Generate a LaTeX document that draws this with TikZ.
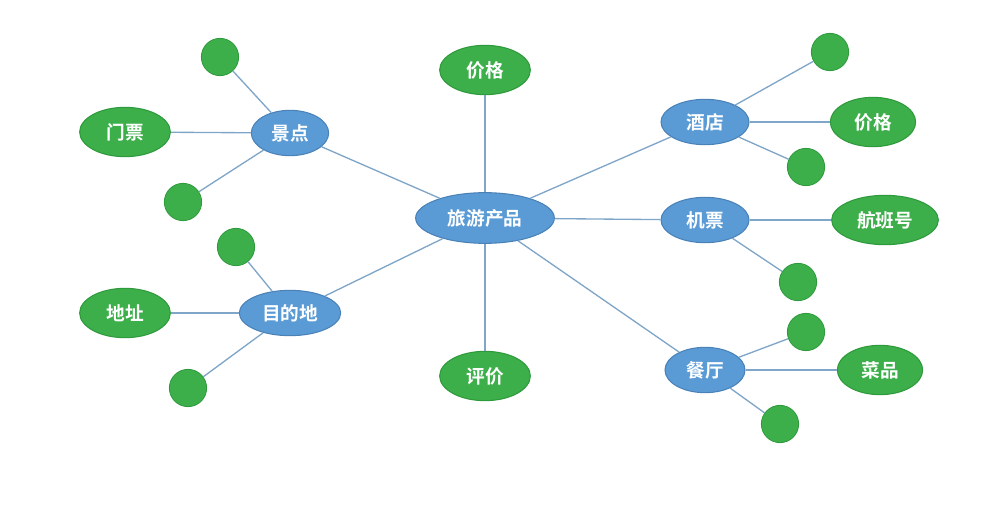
\documentclass[tikz,border=0pt]{standalone}
\usepackage{fontspec}
\newfontfamily\cjk{Noto Sans CJK SC}[BoldFont={Noto Sans CJK SC Bold}]
\usetikzlibrary{shapes.geometric}
\definecolor{bl}{HTML}{5B9BD5}
\definecolor{bld}{HTML}{4A82B8}
\definecolor{gr}{HTML}{3DAF4A}
\definecolor{grd}{HTML}{2E9A3C}
\definecolor{ln}{HTML}{7FA6C8}
\begin{document}
\begin{tikzpicture}[x=0.75pt,y=-0.75pt,
 bnode/.style={ellipse,fill=bl,draw=bld,line width=0.8pt,text=white,font=\cjk\bfseries\fontsize{14}{14}\selectfont,inner sep=0pt},
 gnode/.style={ellipse,fill=gr,draw=grd,line width=0.8pt,text=white,font=\cjk\bfseries\fontsize{14}{14}\selectfont,minimum width=68pt,minimum height=37pt,inner sep=0pt},
 dot/.style={circle,fill=gr,draw=grd,line width=0.6pt,minimum size=28pt,inner sep=0pt},
 conn/.style={draw=ln,line width=1pt}]
\useasboundingbox (0,0) rectangle (986,510);
\node[bnode,minimum width=104pt,minimum height=38pt] (c) at (485,218) {旅游产品};
\node[gnode] (p1) at (485,70) {价格};
\node[gnode] (pj) at (485,376) {评价};
\node[bnode,minimum width=58pt,minimum height=34pt] (jd) at (290,133) {景点};
\node[bnode,minimum width=76pt,minimum height=34pt] (md) at (290,313) {目的地};
\node[bnode,minimum width=66pt,minimum height=34pt] (hd) at (705,122) {酒店};
\node[bnode,minimum width=66pt,minimum height=34pt] (jp) at (705,220) {机票};
\node[bnode,minimum width=60pt,minimum height=34pt] (ct) at (705,370) {餐厅};
\node[gnode] (mp) at (125,132) {门票};
\node[gnode] (dz) at (125,313) {地址};
\node[gnode,minimum width=64pt] (p2) at (873,122) {价格};
\node[gnode,minimum width=80pt] (hb) at (885,220) {航班号};
\node[gnode,minimum width=64pt] (cp) at (880,370) {菜品};
\foreach \n/\x/\y in {d1/220/57,d2/183/202,d3/236/247,d4/188/388,d5/830/52,d6/806/167,d7/798/282,d8/806/332,d9/780/424}
  \node[dot] (\n) at (\x,\y) {};
\begin{scope}[on background layer/.style={}]
\end{scope}
\foreach \a/\b in {c/p1,c/pj,c/jd,c/md,c/hd,c/jp,c/ct,jd/mp,jd/d1,jd/d2,md/dz,md/d3,md/d4,hd/p2,hd/d5,hd/d6,jp/hb,jp/d7,ct/cp,ct/d8,ct/d9}
  \draw[conn] (\a) -- (\b);
\end{tikzpicture}
\end{document}
